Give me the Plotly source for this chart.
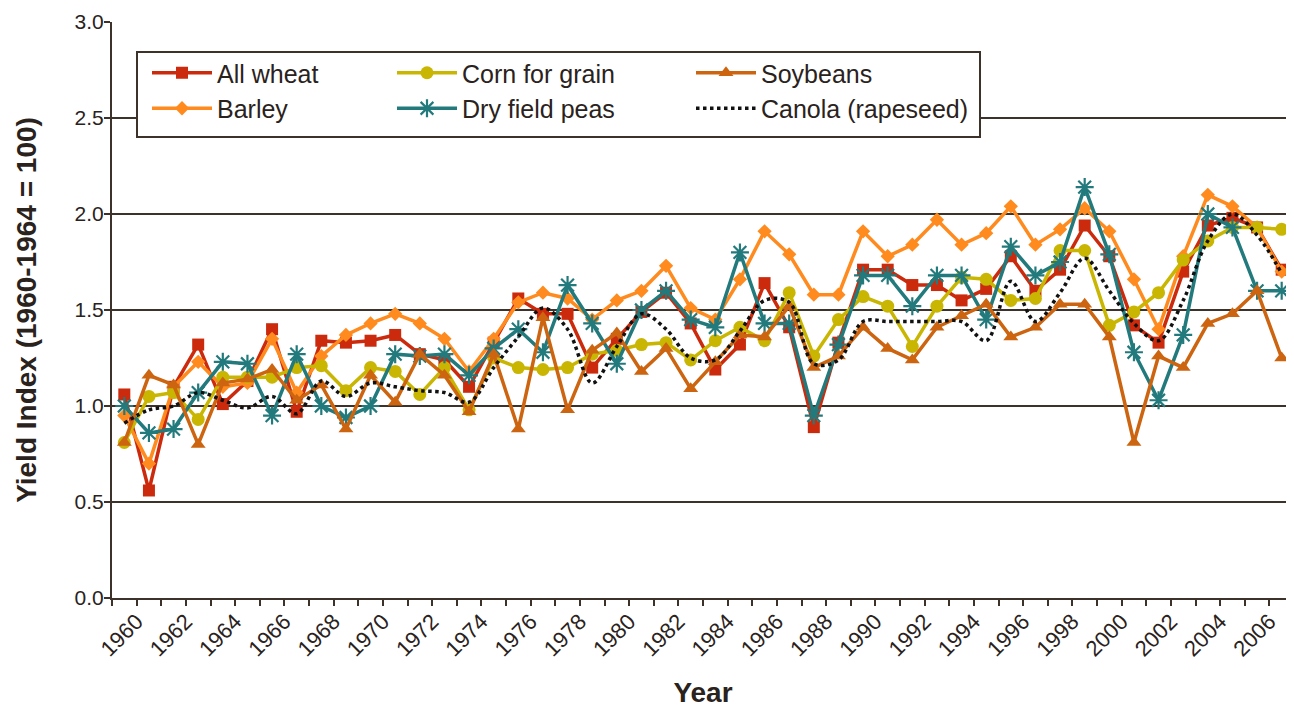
import plotly.graph_objects as go

years = list(range(1960, 2008))

all_wheat = [1.06, 0.56, 1.10, 1.32, 1.01, 1.13, 1.40, 0.97, 1.34, 1.33, 1.34, 1.37,
             1.27, 1.24, 1.10, 1.33, 1.56, 1.48, 1.48, 1.20, 1.35, 1.49, 1.59, 1.43,
             1.19, 1.32, 1.64, 1.41, 0.89, 1.33, 1.71, 1.71, 1.63, 1.63, 1.55, 1.61,
             1.78, 1.60, 1.71, 1.94, 1.78, 1.42, 1.33, 1.70, 1.94, 1.98, 1.93, 1.71]

barley = [0.95, 0.70, 1.10, 1.23, 1.10, 1.12, 1.35, 1.07, 1.26, 1.37, 1.43, 1.48,
          1.43, 1.35, 1.18, 1.35, 1.54, 1.59, 1.56, 1.45, 1.55, 1.60, 1.73, 1.51,
          1.45, 1.66, 1.91, 1.79, 1.58, 1.58, 1.91, 1.78, 1.84, 1.97, 1.84, 1.90,
          2.04, 1.84, 1.92, 2.03, 1.91, 1.66, 1.40, 1.78, 2.10, 2.04, 1.93, 1.70]

corn = [0.81, 1.05, 1.07, 0.93, 1.15, 1.15, 1.15, 1.20, 1.21, 1.08, 1.20, 1.18,
        1.06, 1.20, 0.98, 1.25, 1.20, 1.19, 1.20, 1.27, 1.29, 1.32, 1.33, 1.24,
        1.34, 1.41, 1.34, 1.59, 1.26, 1.45, 1.57, 1.52, 1.31, 1.52, 1.67, 1.66,
        1.55, 1.56, 1.81, 1.81, 1.42, 1.49, 1.59, 1.76, 1.86, 1.93, 1.93, 1.92]

soybeans = [0.81, 1.16, 1.11, 0.80, 1.12, 1.14, 1.19, 1.03, 1.11, 0.88, 1.16, 1.02,
            1.27, 1.16, 0.97, 1.27, 0.88, 1.46, 0.98, 1.29, 1.38, 1.18, 1.30, 1.09,
            1.23, 1.37, 1.36, 1.52, 1.20, 1.26, 1.41, 1.30, 1.24, 1.41, 1.47, 1.53,
            1.36, 1.41, 1.53, 1.53, 1.36, 0.81, 1.26, 1.20, 1.43, 1.48, 1.60, 1.25]

dry_peas = [1.00, 0.86, 0.88, 1.07, 1.23, 1.22, 0.95, 1.27, 1.00, 0.94, 1.00, 1.27,
            1.26, 1.27, 1.16, 1.30, 1.40, 1.28, 1.63, 1.43, 1.22, 1.50, 1.60, 1.45,
            1.41, 1.80, 1.43, 1.43, 0.95, 1.32, 1.68, 1.68, 1.52, 1.68, 1.68, 1.45,
            1.83, 1.68, 1.75, 2.14, 1.79, 1.28, 1.03, 1.37, 2.00, 1.93, 1.60, 1.60]

canola = [0.91, 0.98, 1.00, 1.07, 1.03, 0.99, 1.05, 0.96, 1.13, 1.05, 1.12, 1.10,
          1.08, 1.07, 1.02, 1.20, 1.36, 1.51, 1.40, 1.12, 1.31, 1.48, 1.40, 1.25,
          1.24, 1.39, 1.55, 1.54, 1.22, 1.24, 1.44, 1.44, 1.44, 1.44, 1.44, 1.34,
          1.65, 1.44, 1.59, 1.77, 1.60, 1.43, 1.34, 1.55, 1.86, 2.00, 1.89, 1.69]

tick_years = list(range(1960, 2007, 2))
tick_labels = [str(y) for y in tick_years]

INK = "#2a221c"
GRID = "#3d3229"
FONT = "Liberation Sans, Arial, sans-serif"

fig = go.Figure()

def add(name, vals, color, symbol, size, legend, marker_line=None, dash="solid", shape="linear"):
    mk = dict(symbol=symbol, size=size, color=color)
    if marker_line:
        mk["line"] = dict(color=color, width=marker_line)
    fig.add_trace(go.Scatter(
        x=years, y=vals, name=name, legend=legend,
        mode="lines+markers" if symbol else "lines",
        line=dict(color=color, width=3.5, dash=dash, shape=shape),
        marker=mk if symbol else None,
    ))

add("All wheat", all_wheat, "#CC2A0C", "square", 12, "legend")
add("Barley", barley, "#FF8A1E", "diamond", 11, "legend")
add("Corn for grain", corn, "#C9B602", "circle", 13, "legend2")
add("Dry field peas", dry_peas, "#227A7C", "asterisk", 15, "legend2", marker_line=2.2)
add("Soybeans", soybeans, "#CC6410", "triangle-up", 13, "legend3")
add("Canola (rapeseed)", canola, "#111111", None, 0, "legend3", dash="dot", shape="spline")

# page body has an 8px margin; the figure is sized so the plot lands where the reference has it
OFF = 8
W, H = 1294 - OFF, 708 - OFF
L, R, T, B = 112 - OFF, 0, 22 - OFF, H + OFF - 598
PW = W - L - R
PH = H - T - B

def px(x):
    return (x - OFF - L) / PW

def py(y):
    return (H - B - (y - OFF)) / PH

leg_common = dict(
    orientation="v", bgcolor="rgba(0,0,0,0)", borderwidth=0,
    font=dict(family=FONT, size=25, color=INK),
    itemwidth=60, tracegroupgap=0, xanchor="left", yanchor="top",
    itemclick=False, itemdoubleclick=False,
)

fig.update_layout(
    width=W, height=H,
    margin=dict(l=L, r=R, t=T, b=B),
    paper_bgcolor="white", plot_bgcolor="white",
    font=dict(family=FONT, color=INK, size=21),
    legend=dict(x=px(147), y=py(50), **leg_common),
    legend2=dict(x=px(392), y=py(50), **leg_common),
    legend3=dict(x=px(691), y=py(50), **leg_common),
    shapes=[dict(type="rect", xref="paper", yref="paper",
                 x0=px(137), x1=px(980), y0=py(137), y1=py(52),
                 line=dict(color=GRID, width=2), fillcolor="white", layer="above")],
)

fig.update_xaxes(
    automargin=False,
    range=[1959.5, 2007.5],
    tickmode="array", tickvals=[y + 0.5 for y in tick_years], ticktext=tick_labels,
    tickangle=-45, ticks="", tickfont=dict(family=FONT, size=22, color=INK),
    showgrid=False, zeroline=False,
    showline=True, linecolor=GRID, linewidth=2,
    minor=dict(ticks="outside", ticklen=6, tickwidth=2, tickcolor=GRID,
               tick0=1959.5, dtick=1, showgrid=False),
    title=dict(text="<b>Year</b>", font=dict(family=FONT, size=28, color=INK), standoff=33),
)

fig.update_yaxes(
    automargin=False,
    range=[0, 3.0], tickmode="array", tickvals=[0, 0.5, 1.0, 1.5, 2.0, 2.5, 3.0],
    ticktext=["0.0", "0.5", "1.0", "1.5", "2.0", "2.5", "3.0"],
    ticks="outside", ticklen=6, tickwidth=2, tickcolor=GRID,
    ticklabelstandoff=-4,
    tickfont=dict(family=FONT, size=21, color=INK),
    showgrid=True, gridcolor=GRID, gridwidth=2, zeroline=False,
    showline=True, linecolor=GRID, linewidth=2,
    title=dict(text="<b>Yield Index (1960-1964 = 100)</b>",
               font=dict(family=FONT, size=28, color=INK), standoff=30),
)

fig.write_html("out.html")
